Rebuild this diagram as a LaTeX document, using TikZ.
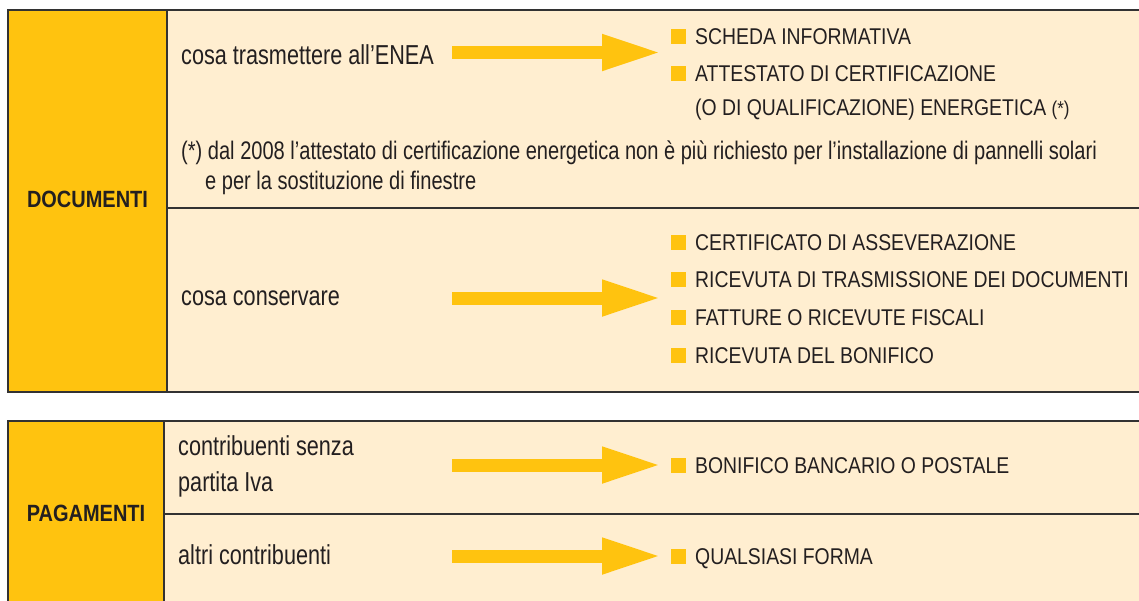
\documentclass[tikz,border=0pt]{standalone}
\usepackage{fontspec}
\setmainfont{Liberation Sans}[FakeStretch=0.85]
\newfontfamily\stretta{Liberation Sans}[FakeStretch=0.79]
\usetikzlibrary{arrows.meta}

\definecolor{giallo}{RGB}{255,195,15}
\definecolor{crema}{RGB}{255,238,208}
\definecolor{testo}{RGB}{35,31,32}
\definecolor{filetto}{RGB}{50,50,50}

\tikzset{
	voce/.style={anchor=base west, inner sep=0pt, text=testo, font=\stretta\fontsize{27.4}{32}\selectfont},
	elenco/.style={anchor=base west, inner sep=0pt, text=testo, font=\fontsize{22.8}{27}\selectfont},
	nota/.style={anchor=base west, inner sep=0pt, text=testo, font=\stretta\fontsize{25.4}{30}\selectfont},
	titolo/.style={inner sep=0pt, text=testo, font=\bfseries\fontsize{23.5}{28}\selectfont},
	quadretto/.style={fill=giallo, minimum size=15pt, inner sep=0pt},
	freccia/.style={draw=giallo, line width=13pt, -{Triangle[length=60pt,width=33pt]}},
	linea/.style={draw=filetto, line width=1.3pt}
}

\begin{document}
\begin{tikzpicture}[x=1pt, y=-1pt]
				\useasboundingbox (0,0) rectangle (1139,600);
				
				% riquadro documenti
				\coordinate (D1) at (8, 10);
				\coordinate (D2) at (167, 10);
				\coordinate (D3) at (1145, 10);
				\coordinate (D4) at (8, 392);
				\coordinate (D5) at (167, 392);
				\coordinate (D6) at (1145, 392);
				\coordinate (D7) at (167, 208);
				\coordinate (D8) at (1145, 208);
				
				\fill[crema] (D1) rectangle (D6);
				\fill[giallo] (D1) rectangle (D5);
				\draw[linea] (D3) -- (D1) -- (D4) -- (D6);
				\draw[linea] (D2) -- (D5);
				\draw[linea] (D7) -- (D8);
				
				% riquadro pagamenti
				\coordinate (P1) at (8, 421);
				\coordinate (P2) at (164, 421);
				\coordinate (P3) at (1145, 421);
				\coordinate (P4) at (8, 605);
				\coordinate (P5) at (164, 605);
				\coordinate (P6) at (1145, 605);
				\coordinate (P7) at (164, 514);
				\coordinate (P8) at (1145, 514);
				
				\fill[crema] (P1) rectangle (P6);
				\fill[giallo] (P1) rectangle (P5);
				\draw[linea] (P3) -- (P1) -- (P4);
				\draw[linea] (P2) -- (P5);
				\draw[linea] (P7) -- (P8);
				
				% titoli
				\node[titolo] (doc) at (87.5, 199) {DOCUMENTI};
				\node[titolo] (pag) at (86, 513) {PAGAMENTI};
				
				% voci a sinistra
				\node[voce] (trasm) at (181, 64) {cosa trasmettere all’ENEA};
				\node[voce] (cons) at (181, 305) {cosa conservare};
				\node[voce] (contr) at (178, 455) {contribuenti senza};
				\node[voce] (piva) at (178, 491) {partita Iva};
				\node[voce] (altri) at (178, 564) {altri contribuenti};
				
				% nota
				\node[nota] (nota1) at (181, 159) {(*) dal 2008 l’attestato di certificazione energetica non è più richiesto per l’installazione di pannelli solari};
				\node[nota] (nota2) at (205, 189) {e per la sostituzione di finestre};
				
				% quadretti
				\node[quadretto] (q1) at (678.5, 36) {};
				\node[quadretto] (q2) at (678.5, 73) {};
				\node[quadretto] (q3) at (678.5, 242) {};
				\node[quadretto] (q4) at (678.5, 279) {};
				\node[quadretto] (q5) at (678.5, 317) {};
				\node[quadretto] (q6) at (678.5, 355) {};
				\node[quadretto] (q7) at (678.5, 465) {};
				\node[quadretto] (q8) at (678.5, 556) {};
				
				% elenchi
				\node[elenco] (e1) at (695, 44) {SCHEDA INFORMATIVA};
				\node[elenco] (e2) at (695, 81) {ATTESTATO DI CERTIFICAZIONE};
				\node[elenco] (e2b) at (695, 115) {(O DI QUALIFICAZIONE) ENERGETICA {\fontsize{20}{22}\selectfont(*)}};
				\node[elenco] (e3) at (695, 250) {CERTIFICATO DI ASSEVERAZIONE};
				\node[elenco] (e4) at (695, 287) {RICEVUTA DI TRASMISSIONE DEI DOCUMENTI};
				\node[elenco] (e5) at (695, 325) {FATTURE O RICEVUTE FISCALI};
				\node[elenco] (e6) at (695, 363) {RICEVUTA DEL BONIFICO};
				\node[elenco] (e7) at (695, 473) {BONIFICO BANCARIO O POSTALE};
				\node[elenco] (e8) at (695, 564) {QUALSIASI FORMA};
				
				% frecce
				\coordinate (a1) at (452, 52.5);
				\coordinate (b1) at (662, 52.5);
				\coordinate (a2) at (452, 298);
				\coordinate (b2) at (662, 298);
				\coordinate (a3) at (452, 465);
				\coordinate (b3) at (662, 465);
				\coordinate (a4) at (452, 556);
				\coordinate (b4) at (662, 556);
				
				\draw[freccia] (a1) -- (b1);
				\draw[freccia] (a2) -- (b2);
				\draw[freccia] (a3) -- (b3);
				\draw[freccia] (a4) -- (b4);
\end{tikzpicture}
\end{document}
